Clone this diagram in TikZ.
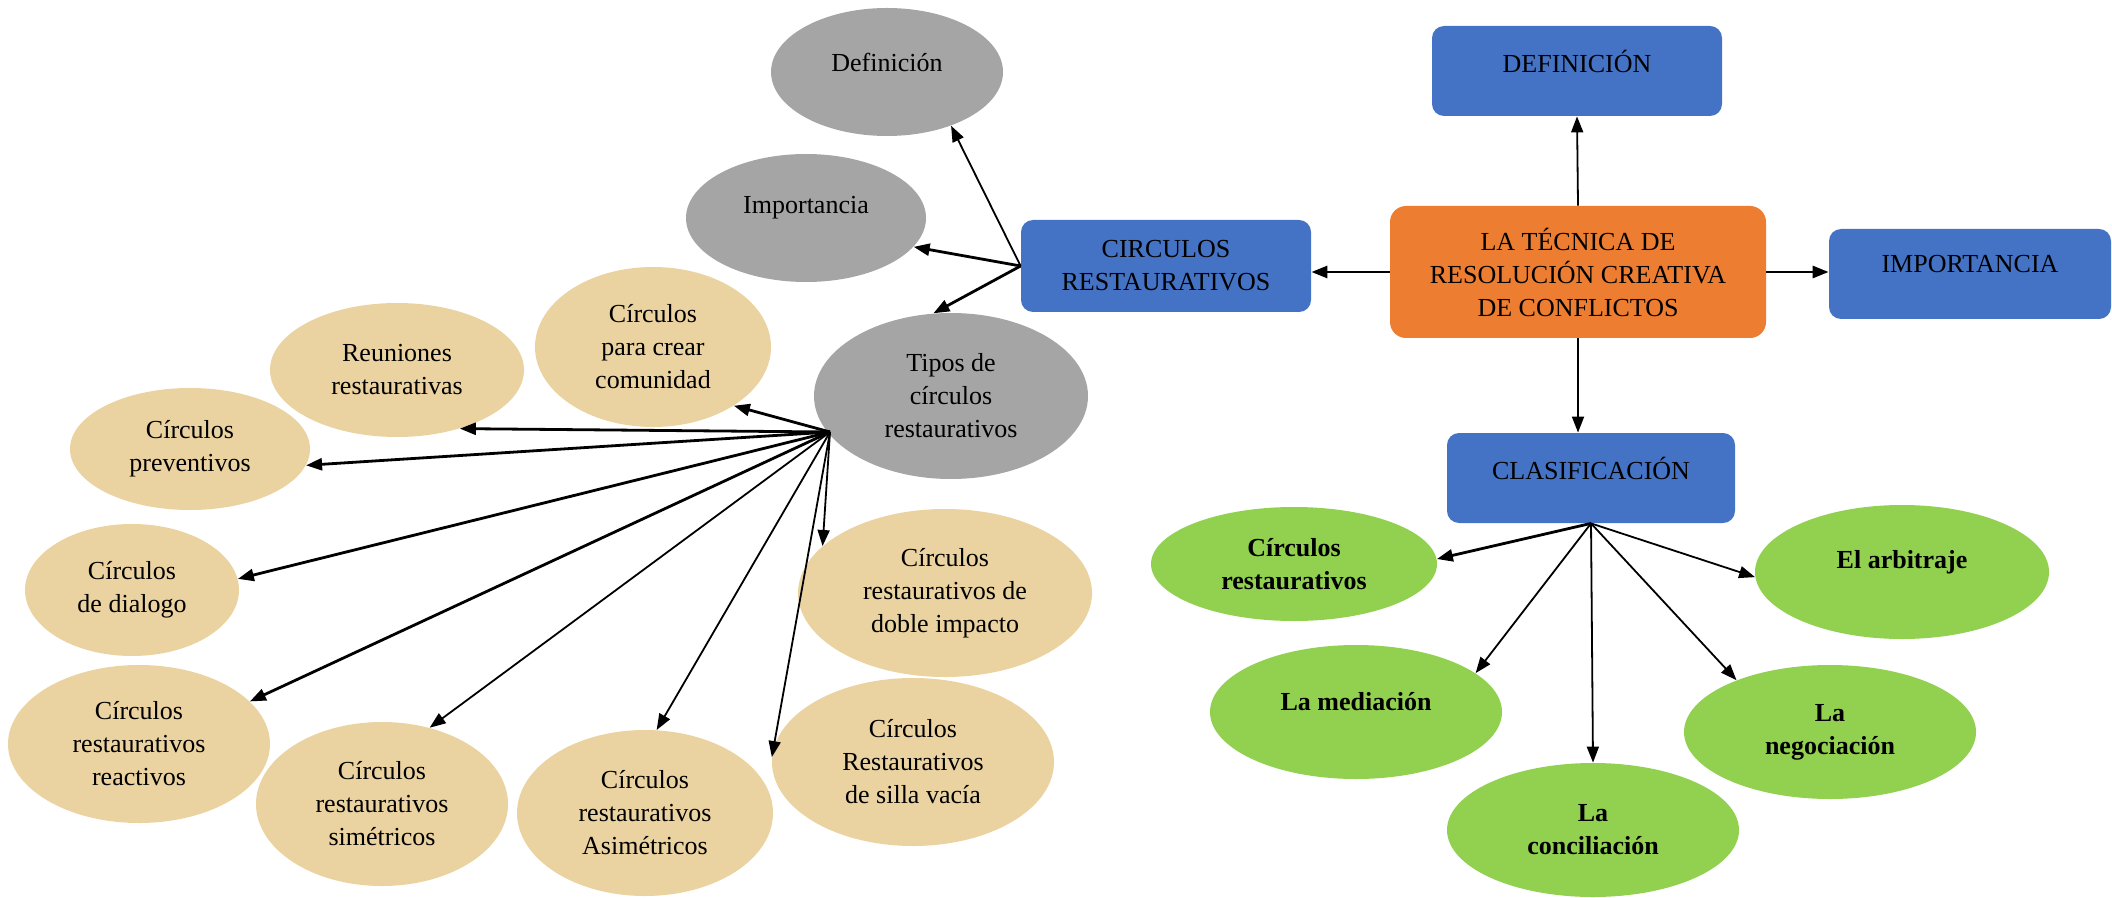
\documentclass[tikz,border=0pt]{standalone}
\usepackage{fontspec}
\setmainfont{Liberation Serif}
\usepackage{tikz}
\usetikzlibrary{arrows.meta, shapes.geometric, calc}
\definecolor{grisnodo}{RGB}{165,165,165}
\definecolor{azulcaja}{RGB}{68,114,196}
\definecolor{naranja}{RGB}{237,125,49}
\definecolor{verdenodo}{RGB}{146,208,80}
\definecolor{papiro}{RGB}{234,211,160}
\newcommand{\subir}[1]{\raisebox{5pt}[\height][\depth]{#1}}

\begin{document}
\begin{tikzpicture}[x=0.5pt, y=-0.5pt,
    every node/.style={font=\fontsize{13}{16.5}\selectfont, align=center, inner sep=0pt},
    caja/.style={rectangle, rounded corners=6pt, fill=azulcaja},
    gris/.style={ellipse, fill=grisnodo},
    papel/.style={ellipse, fill=papiro},
    verde/.style={ellipse, fill=verdenodo, font=\fontsize{13}{16.5}\selectfont\bfseries},
    flecha/.style={-{Triangle[length=8pt, width=6pt]}, line width=0.9pt},
    flecha gruesa/.style={flecha, line width=1.4pt}]

    \useasboundingbox (0,0) rectangle (2112,898);

    % === NODO CENTRAL ===
    \node[rectangle, rounded corners=8pt, fill=naranja, minimum width=188pt, minimum height=66pt] (tecnica) at (1578,272)
        {LA TÉCNICA DE\\RESOLUCIÓN CREATIVA\\DE CONFLICTOS};

    % === CAJAS AZULES ===
    \node[caja, minimum width=145pt, minimum height=45pt] (defcaja) at (1577,71) {\subir{DEFINICIÓN}};
    \node[caja, minimum width=141pt, minimum height=45pt] (impcaja) at (1970,274) {\subir{IMPORTANCIA}};
    \node[caja, minimum width=145pt, minimum height=46pt] (circulos) at (1166,266) {CIRCULOS\\RESTAURATIVOS};
    \node[caja, minimum width=144pt, minimum height=45pt] (clasif) at (1591,478) {\subir{CLASIFICACIÓN}};

    % === RAMA CIRCULOS RESTAURATIVOS ===
    \node[gris, minimum width=116pt, minimum height=64pt] (definicion) at (887,72) {\subir{Definición}};
    \node[gris, minimum width=120pt, minimum height=64pt] (importancia) at (806,218) {\subir{Importancia}};
    \node[gris, minimum width=137pt, minimum height=83pt] (tipos) at (951,396) {Tipos de\\círculos\\restaurativos};
    \coordinate (nudo) at (830,432);

    % Tipos de círculos
    \node[papel, minimum width=118pt, minimum height=80pt] (comunidad) at (653,347) {Círculos\\para crear\\comunidad};
    \node[papel, minimum width=127pt, minimum height=67pt] (reuniones) at (397,370) {Reuniones\\restaurativas};
    \node[papel, minimum width=120pt, minimum height=61pt] (preventivos) at (190,449) {Círculos\\preventivos};
    \node[papel, minimum width=107pt, minimum height=66pt] (dialogo) at (132,590) {Círculos\\de dialogo};
    \node[papel, minimum width=131pt, minimum height=79pt] (reactivos) at (139,744) {Círculos\\restaurativos\\reactivos};
    \node[papel, minimum width=126pt, minimum height=82pt] (simetricos) at (382,804) {Círculos\\restaurativos\\simétricos};
    \node[papel, minimum width=128pt, minimum height=83pt] (asimetricos) at (645,813) {Círculos\\restaurativos\\Asimétricos};
    \node[papel, minimum width=141pt, minimum height=84pt] (silla) at (913,762) {Círculos\\Restaurativos\\de silla vacía};
    \node[papel, minimum width=147pt, minimum height=84pt] (doble) at (945,593) {Círculos\\restaurativos de\\doble impacto};

    % === CLASIFICACION ===
    \node[verde, minimum width=143pt, minimum height=57pt] (restaurativos) at (1294,564) {Círculos\\restaurativos};
    \node[verde, minimum width=147pt, minimum height=67pt] (arbitraje) at (1902,572) {\subir{El arbitraje}};
    \node[verde, minimum width=146pt, minimum height=67pt] (mediacion) at (1356,712) {\subir{La mediación}};
    \node[verde, minimum width=146pt, minimum height=67pt] (negociacion) at (1830,732) {La\\negociación};
    \node[verde, minimum width=146pt, minimum height=67pt] (conciliacion) at (1593,830) {La\\conciliación};

    % Flechas del nodo central
    \draw[flecha] (tecnica.north) -- (defcaja.south);
    \draw[flecha gruesa] (tecnica.west) -- (tecnica.west -| circulos.east);
    \draw[flecha gruesa] (tecnica.east) -- (tecnica.east -| impcaja.west);
    \draw[flecha] (tecnica.south) -- (tecnica.south |- clasif.north);

    % Flechas de circulos restaurativos
    \draw[flecha] (circulos.west) -- (definicion.-40);
    \draw[flecha gruesa] (circulos.west) -- (importancia.-15);
    \draw[flecha gruesa] (circulos.west) -- (tipos.102);

    % Flechas de tipos
    \draw[flecha gruesa] (nudo) -- (comunidad.-36);
    \draw[flecha gruesa] (nudo) -- (reuniones.-43);
    \draw[flecha gruesa] (nudo) -- (preventivos.-8);
    \draw[flecha gruesa] (nudo) -- (dialogo.6);
    \draw[flecha gruesa] (nudo) -- (reactivos.21);
    \draw[flecha] (nudo) -- (simetricos.58);
    \draw[flecha] (nudo) -- (asimetricos.82);
    \draw[flecha] (nudo) -- (silla.178);
    \draw[flecha] (nudo) -- (doble.159);

    % Flechas de clasificacion
    \draw[flecha gruesa] (clasif.south) -- (restaurativos.2);
    \draw[flecha] (clasif.south) -- (mediacion.18);
    \draw[flecha] (clasif.south) -- (conciliacion.90);
    \draw[flecha] (clasif.south) -- (negociacion.151);
    \draw[flecha] (clasif.south) -- (arbitraje.182);

\end{tikzpicture}
\end{document}
